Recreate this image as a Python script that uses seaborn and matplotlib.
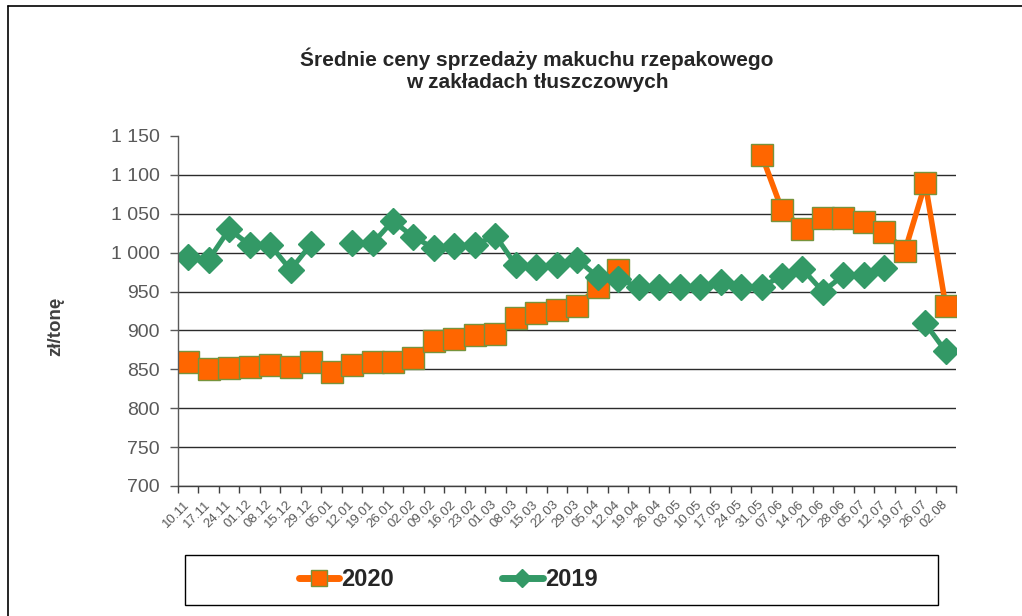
import numpy as np
import pandas as pd
import matplotlib
matplotlib.use("Agg")
import matplotlib.pyplot as plt
import seaborn as sns
from matplotlib import font_manager
from matplotlib.lines import Line2D
from matplotlib.patches import Rectangle
from matplotlib.ticker import FuncFormatter

nan = np.nan

dates = ["10.11", "17.11", "24.11", "01.12", "08.12", "15.12", "29.12", "05.01",
         "12.01", "19.01", "26.01", "02.02", "09.02", "16.02", "23.02", "01.03",
         "08.03", "15.03", "22.03", "29.03", "05.04", "12.04", "19.04", "26.04",
         "03.05", "10.05", "17.05", "24.05", "31.05", "07.06", "14.06", "21.06",
         "28.06", "05.07", "12.07", "19.07", "26.07", "02.08"]

prices_2020 = [860, 850, 852, 853, 855, 853, 860, 846, 855, 860, 860, 864,
               887, 889, 894, 896, 916, 923, 926, 931, 956, 978,
               nan, nan, nan, nan, nan, nan,
               1126, 1055, 1031, 1045, 1045, 1040, 1027, 1002, 1089, 931]

prices_2019 = [994, 991, 1030, 1010, 1010, 978, 1011, nan, 1012, 1012, 1041,
               1020, 1006, 1009, 1010, 1022, 984, 982, 984, 991, 969, 966,
               956, 956, 956, 956, 962, 956, 956, 970, 979, 950, 971, 971,
               980, nan, 909, 873]

sns.set_theme(style="white")
plt.rcParams['font.family'] = ['Liberation Sans', 'DejaVu Sans']

font_names = {f.name for f in font_manager.fontManager.ttflist}
narrow = 'Liberation Sans Narrow' if 'Liberation Sans Narrow' in font_names else 'Liberation Sans'


def to_frame(values):
    # split the series at missing weeks so the line breaks there
    df = pd.DataFrame({'pos': np.arange(len(values)), 'price': values})
    df['seg'] = df['price'].isna().cumsum()
    return df.dropna()


W, H = 1022, 616
fig = plt.figure(figsize=(W / 100, H / 100), dpi=100)
ax = fig.add_axes([178 / W, 1 - 486 / H, (956 - 178) / W, 350 / H])

styles = {
    '2020': dict(color='#FF6600', marker='s', markersize=16.5,
                 markeredgecolor='#77933C', markeredgewidth=1, linewidth=4),
    '2019': dict(color='#339966', marker='D', markersize=13.5,
                 markeredgecolor='#339966', markeredgewidth=1, linewidth=3.6),
}

for name, vals in [('2020', prices_2020), ('2019', prices_2019)]:
    sns.lineplot(data=to_frame(vals), x='pos', y='price', units='seg',
                 estimator=None, ax=ax, legend=False,
                 solid_capstyle='round', solid_joinstyle='round',
                 **styles[name])

ax.set_xlim(-0.5, len(dates) - 0.5)
ax.set_ylim(700, 1150)
ax.set_xlabel('')
ax.set_ylabel('')

# y axis
ax.set_yticks(np.arange(700, 1151, 50))
ax.yaxis.set_major_formatter(FuncFormatter(lambda v, p: f"{int(v):,}".replace(',', ' ')))
ax.tick_params(axis='y', which='major', direction='out', length=6, width=1,
               color='#595959', labelsize=14, labelcolor='#595959', pad=7, left=True)
ax.grid(axis='y', color='#2b2b2b', linewidth=1)
ax.yaxis.get_gridlines()[-1].set_visible(False)
ax.grid(axis='x', visible=False)
ax.set_axisbelow(True)

# x axis: ticks between weeks, labels at weeks
ax.set_xticks(np.arange(-0.5, len(dates), 1))
ax.set_xticklabels([])
ax.set_xticks(np.arange(len(dates)), minor=True)
ax.set_xticklabels(dates, minor=True)
ax.tick_params(axis='x', which='major', direction='out', length=5, width=1,
               color='#404040', bottom=True)
ax.tick_params(axis='x', which='minor', length=0, labelsize=9.5,
               labelcolor='#595959', pad=12)
plt.setp(ax.get_xticklabels(minor=True), rotation=45, ha='right', va='center',
         rotation_mode='anchor')

for side in ['top', 'right']:
    ax.spines[side].set_visible(False)
ax.spines['left'].set_color('#595959')
ax.spines['bottom'].set_color('#404040')
ax.spines['left'].set_linewidth(1)
ax.spines['bottom'].set_linewidth(1)

# titles
fig.text(537 / W, 1 - 70 / H, 'Średnie ceny sprzedaży makuchu rzepakowego\nw zakładach tłuszczowych',
         ha='center', va='center', fontsize=15, fontweight='bold',
         color='#262626', linespacing=1.2)
fig.text(56 / W, 1 - 326 / H, 'zł/tonę', rotation=90, ha='center', va='center',
         fontsize=13.5, fontweight='bold', color='#404040')

# legend inside a drawn box
fig.add_artist(Rectangle((185 / W, 1 - 605 / H), 753 / W, 50 / H, fill=False,
                         edgecolor='black', linewidth=1, transform=fig.transFigure))
legend_sizes = {'2020': 11, '2019': 9}
handles = []
for name in ['2020', '2019']:
    st = dict(styles[name])
    st['markersize'] = legend_sizes[name]
    st['linewidth'] = 5
    handles.append(Line2D([], [], solid_capstyle='round', **st))
fig.legend(handles, ['2020', '2019'], loc='center', bbox_to_anchor=(448 / W, 1 - 580 / H),
           ncol=2, frameon=False, handlelength=1.7, handletextpad=0.1,
           columnspacing=4.6, prop={'family': narrow, 'weight': 'bold', 'size': 17},
           labelcolor='#262626')

# outer chart border (left and top visible)
fig.add_artist(Line2D([8 / W, 8 / W], [0, 1 - 6 / H], color='black', linewidth=1.2,
                      transform=fig.transFigure))
fig.add_artist(Line2D([8 / W, 1], [1 - 6 / H, 1 - 6 / H], color='black', linewidth=1.2,
                      transform=fig.transFigure))

fig.savefig('out.png', dpi=100)
